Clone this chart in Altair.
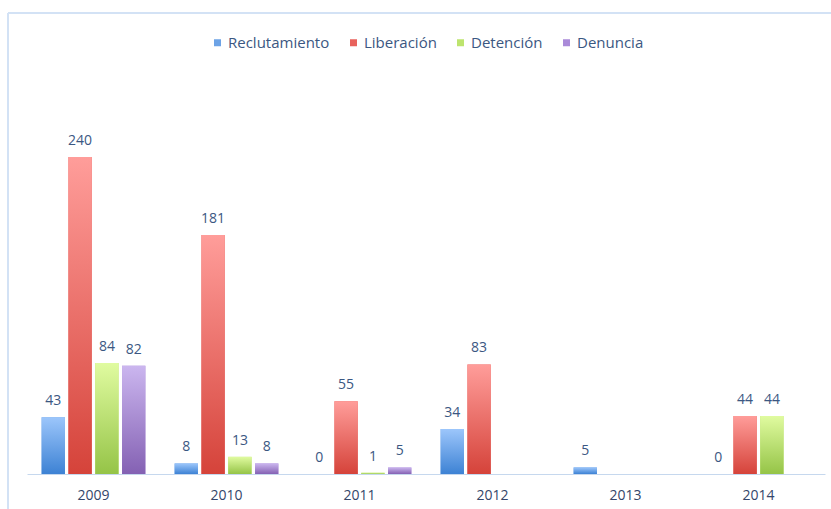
import altair as alt
import pandas as pd

years = ["2009", "2010", "2011", "2012", "2013", "2014"]
series = ["Reclutamiento", "Liberación", "Detención", "Denuncia"]
reclutamiento = [43, 8, 0, 34, 5, 0]
liberacion = [240, 181, 55, 83, None, 44]
detencion = [84, 13, 1, None, None, 44]
denuncia = [82, 8, 5, None, None, None]

legend_colors = ["#6da3e6", "#e8625c", "#bde46e", "#aa8ad9"]
grad_top = ["#9cc6fb", "#ff9d9a", "#e0fba0", "#cbb6ef"]
grad_bottom = ["#3d82d4", "#d5433a", "#95c447", "#8461b3"]

rows = []
for s, vals in zip(series, [reclutamiento, liberacion, detencion, denuncia]):
    for y, v in zip(years, vals):
        if v is not None:
            rows.append({"year": y, "serie": s, "value": v})
df = pd.DataFrame(rows)

FONT = "Open Sans"
TXT = "#3b5782"

x_enc = alt.X("year:N", sort=years, scale=alt.Scale(paddingInner=0.22, paddingOuter=0.11),
              axis=alt.Axis(title=None, labelAngle=0, ticks=False, domainColor="#c6d8ee",
                            labelFontSize=14, labelColor="#34466a", labelPadding=14, labelFont=FONT))
xo_enc = alt.XOffset("serie:N", scale=alt.Scale(domain=series, paddingInner=0.13))
y_enc = alt.Y("value:Q", scale=alt.Scale(domain=[0, 340], nice=False), axis=None)

base = alt.Chart(df)

legend_layer = base.mark_bar().encode(
    x=x_enc, xOffset=xo_enc, y=y_enc,
    color=alt.Color("serie:N", scale=alt.Scale(domain=series, range=legend_colors),
                    legend=alt.Legend(title=None, orient="none", legendX=183, legendY=10,
                                      direction="horizontal", symbolType="square", symbolSize=49,
                                      symbolStrokeWidth=0, labelFontSize=15, labelFont=FONT,
                                      labelColor=TXT, labelOffset=3, columnPadding=16)),
)

grad_layers = []
for s, t, b in zip(series, grad_top, grad_bottom):
    grad_layers.append(
        base.transform_filter(alt.datum.serie == s).mark_bar(
            color=alt.Gradient(gradient="linear", x1=0, x2=0, y1=0, y2=1,
                               stops=[alt.GradientStop(color=t, offset=0),
                                      alt.GradientStop(color=b, offset=1)])
        ).encode(x=x_enc, xOffset=xo_enc, y=y_enc)
    )

labels = base.mark_text(dy=-9, baseline="bottom", fontSize=14, font=FONT, color=TXT).encode(
    x=x_enc, xOffset=xo_enc, y=y_enc, text=alt.Text("value:Q")
)

frame_left = alt.Chart(df).mark_rule(color="#d3e2f4", strokeWidth=1.5).encode(
    x=alt.value(-19), y=alt.value(-12), y2=alt.value(700))
frame_top = alt.Chart(df).mark_rule(color="#d3e2f4", strokeWidth=1.5).encode(
    x=alt.value(-19), x2=alt.value(1000), y=alt.value(-12))

chart = alt.layer(frame_left, frame_top, legend_layer, *grad_layers, labels).properties(
    width=798, height=449,
    background="white",
    autosize=alt.AutoSizeParams(type="none"),
    padding={"left": 27, "top": 25, "right": 6, "bottom": 35},
).configure_view(strokeWidth=0, stroke=None)

chart.save("out.html", embed_options={"renderer": "svg", "actions": False})
